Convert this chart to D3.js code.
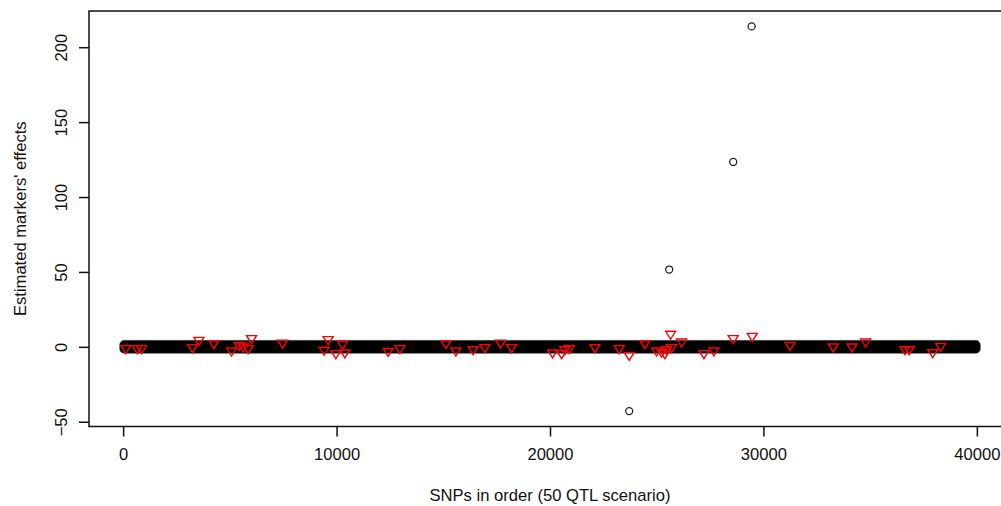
<!DOCTYPE html>
<html lang="en">
  <head>
    <meta charset="utf-8">
    <title>Estimated markers' effects</title>
    <script type='text/javascript' src='https://d3js.org/d3.v7.min.js'></script>
    <style>
      body { margin: 0; background: #fff; }
      text { font-family: 'Liberation Sans', Arial, sans-serif; fill: #111; }
    </style>
  </head>
  <body>
    <div id="viz"></div>
    <script type="text/javascript">

    // all SNPs: the non-QTL markers sit in a thin band round zero
    var snpRange = [1, 40000]
    var bandEffect = [-2, 2]

    // estimated effects that stand out of the band (black circles)
    var outlierSnp = [23711, 25586, 28585, 29447]
    var outlierEffect = [-42.9, 51.6, 123.4, 213.9]

    // the QTL positions (red triangles)
    var qtlSnp = [127, 656, 862, 3252, 3547, 4250, 5080, 5436, 5623, 5858, 6017, 7470,
      9419, 9606, 9967, 10281, 10389, 12418, 12966, 15122, 15590, 16401, 16949, 17685,
      18201, 20122, 20544, 20698, 20900, 22104, 23243, 23711, 24447, 24995, 25230, 25384,
      25464, 25651, 25700, 26167, 27212, 27680, 28585, 29475, 31242, 33271, 34147, 34789,
      36631, 36832, 37929, 38303]
    var qtlEffect = [-1.2, -1.2, -1.2, -0.5, 4.3, 2.1, -2.8, 1.0, -0.1, -1.2, 5.5, 2.5,
      -2.3, 4.8, -4.5, 1.7, -4.1, -3.1, -1.2, 2.1, -2.8, -1.9, -0.5, 2.5,
      -0.5, -4.1, -4.5, -1.9, -1.2, -0.5, -1.2, -5.7, 2.1, -2.8, -3.5, -4.5,
      -1.9, 8.4, -0.5, 3.2, -4.5, -2.8, 5.5, 7.0, 1.0, -0.1, -0.1, 3.2,
      -1.9, -1.9, -3.9, 0.3]

    var xTicks = [0, 10000, 20000, 30000, 40000]
    var yTicks = [-50, 0, 50, 100, 150, 200]

    var W = 1001, H = 506
    var mLeft = 89, mRight = 1011, mTop = 11, mBottom = 426.5
    var fs = "16.6px"

    var svg = d3.select("#viz").append("svg")
      .attr("width", W)
      .attr("height", H)

    // R style limits: data range plus 4% on each side
    function pad(ext) {
      var d = (ext[1] - ext[0]) * 0.04
      return [ext[0] - d, ext[1] + d]
    }
    var allY = outlierEffect.concat(qtlEffect).concat(bandEffect)

    var x = d3.scaleLinear().domain(pad(snpRange)).range([mLeft, mRight])
    var y = d3.scaleLinear().domain(pad(d3.extent(allY))).range([mBottom, mTop])

    var r = 3.5

    // the band of 40000 small circles
    svg.append("rect")
      .attr("x", x(snpRange[0]) - r)
      .attr("width", x(snpRange[1]) - x(snpRange[0]) + 2 * r)
      .attr("y", y(bandEffect[1]) - r)
      .attr("height", y(bandEffect[0]) - y(bandEffect[1]) + 2 * r)
      .attr("rx", r + 1)
      .style("fill", "#000")
      .style("stroke", "#555")
      .style("stroke-width", 0.6)

    svg.selectAll(".out")
      .data(outlierSnp)
      .enter()
      .append("circle")
      .attr("class", "out")
      .attr("cx", function(d) { return x(d) })
      .attr("cy", function(d, i) { return y(outlierEffect[i]) })
      .attr("r", r)
      .style("fill", "none")
      .style("stroke", "#222")
      .style("stroke-width", 1.3)

    // pch = 6, point-down triangle
    var s = 5
    svg.selectAll(".qtl")
      .data(qtlSnp)
      .enter()
      .append("path")
      .attr("class", "qtl")
      .attr("d", "M" + (-s) + "," + (-s * 0.6) + "L" + s + "," + (-s * 0.6) + "L0," + (s * 1.0) + "Z")
      .attr("transform", function(d, i) {
        return "translate(" + x(d) + "," + y(qtlEffect[i]) + ")"
      })
      .style("fill", "none")
      .style("stroke", "#f00")
      .style("stroke-width", 1.4)

    // box
    svg.append("rect")
      .attr("x", mLeft)
      .attr("y", mTop)
      .attr("width", mRight - mLeft)
      .attr("height", mBottom - mTop)
      .style("fill", "none")
      .style("stroke", "#111")
      .style("stroke-width", 1.5)

    var xaxis = d3.axisBottom(x)
      .tickValues(xTicks)
      .tickSize(10)
      .tickSizeOuter(0)
      .tickPadding(12)
      .tickFormat(d3.format("d"))

    var gx = svg.append("g")
      .attr("transform", "translate(0," + mBottom + ")")
      .call(xaxis)
    gx.select(".domain").remove()
    gx.selectAll("line").style("stroke", "#111").style("stroke-width", 1.5)
    gx.selectAll("text").style("font-size", fs).style("fill", "#111")

    var yaxis = d3.axisLeft(y)
      .tickValues(yTicks)
      .tickSize(10)
      .tickSizeOuter(0)

    var gy = svg.append("g")
      .attr("transform", "translate(" + mLeft + ",0)")
      .call(yaxis)
    gy.select(".domain").remove()
    gy.selectAll("line").style("stroke", "#111").style("stroke-width", 1.5)
    gy.selectAll("text")
      .attr("x", null)
      .attr("dy", null)
      .attr("transform", "translate(-22,0) rotate(-90)")
      .style("text-anchor", "middle")
      .style("font-size", fs)
      .style("fill", "#111")

    svg.append("text")
      .attr("x", (mLeft + mRight) / 2)
      .attr("y", 501)
      .style("text-anchor", "middle")
      .style("font-size", fs)
      .text("SNPs in order (50 QTL scenario)")

    svg.append("text")
      .attr("transform", "translate(26," + (mTop + mBottom) / 2 + ") rotate(-90)")
      .style("text-anchor", "middle")
      .style("font-size", fs)
      .text("Estimated markers' effects")

    </script>
  </body>
</html>
